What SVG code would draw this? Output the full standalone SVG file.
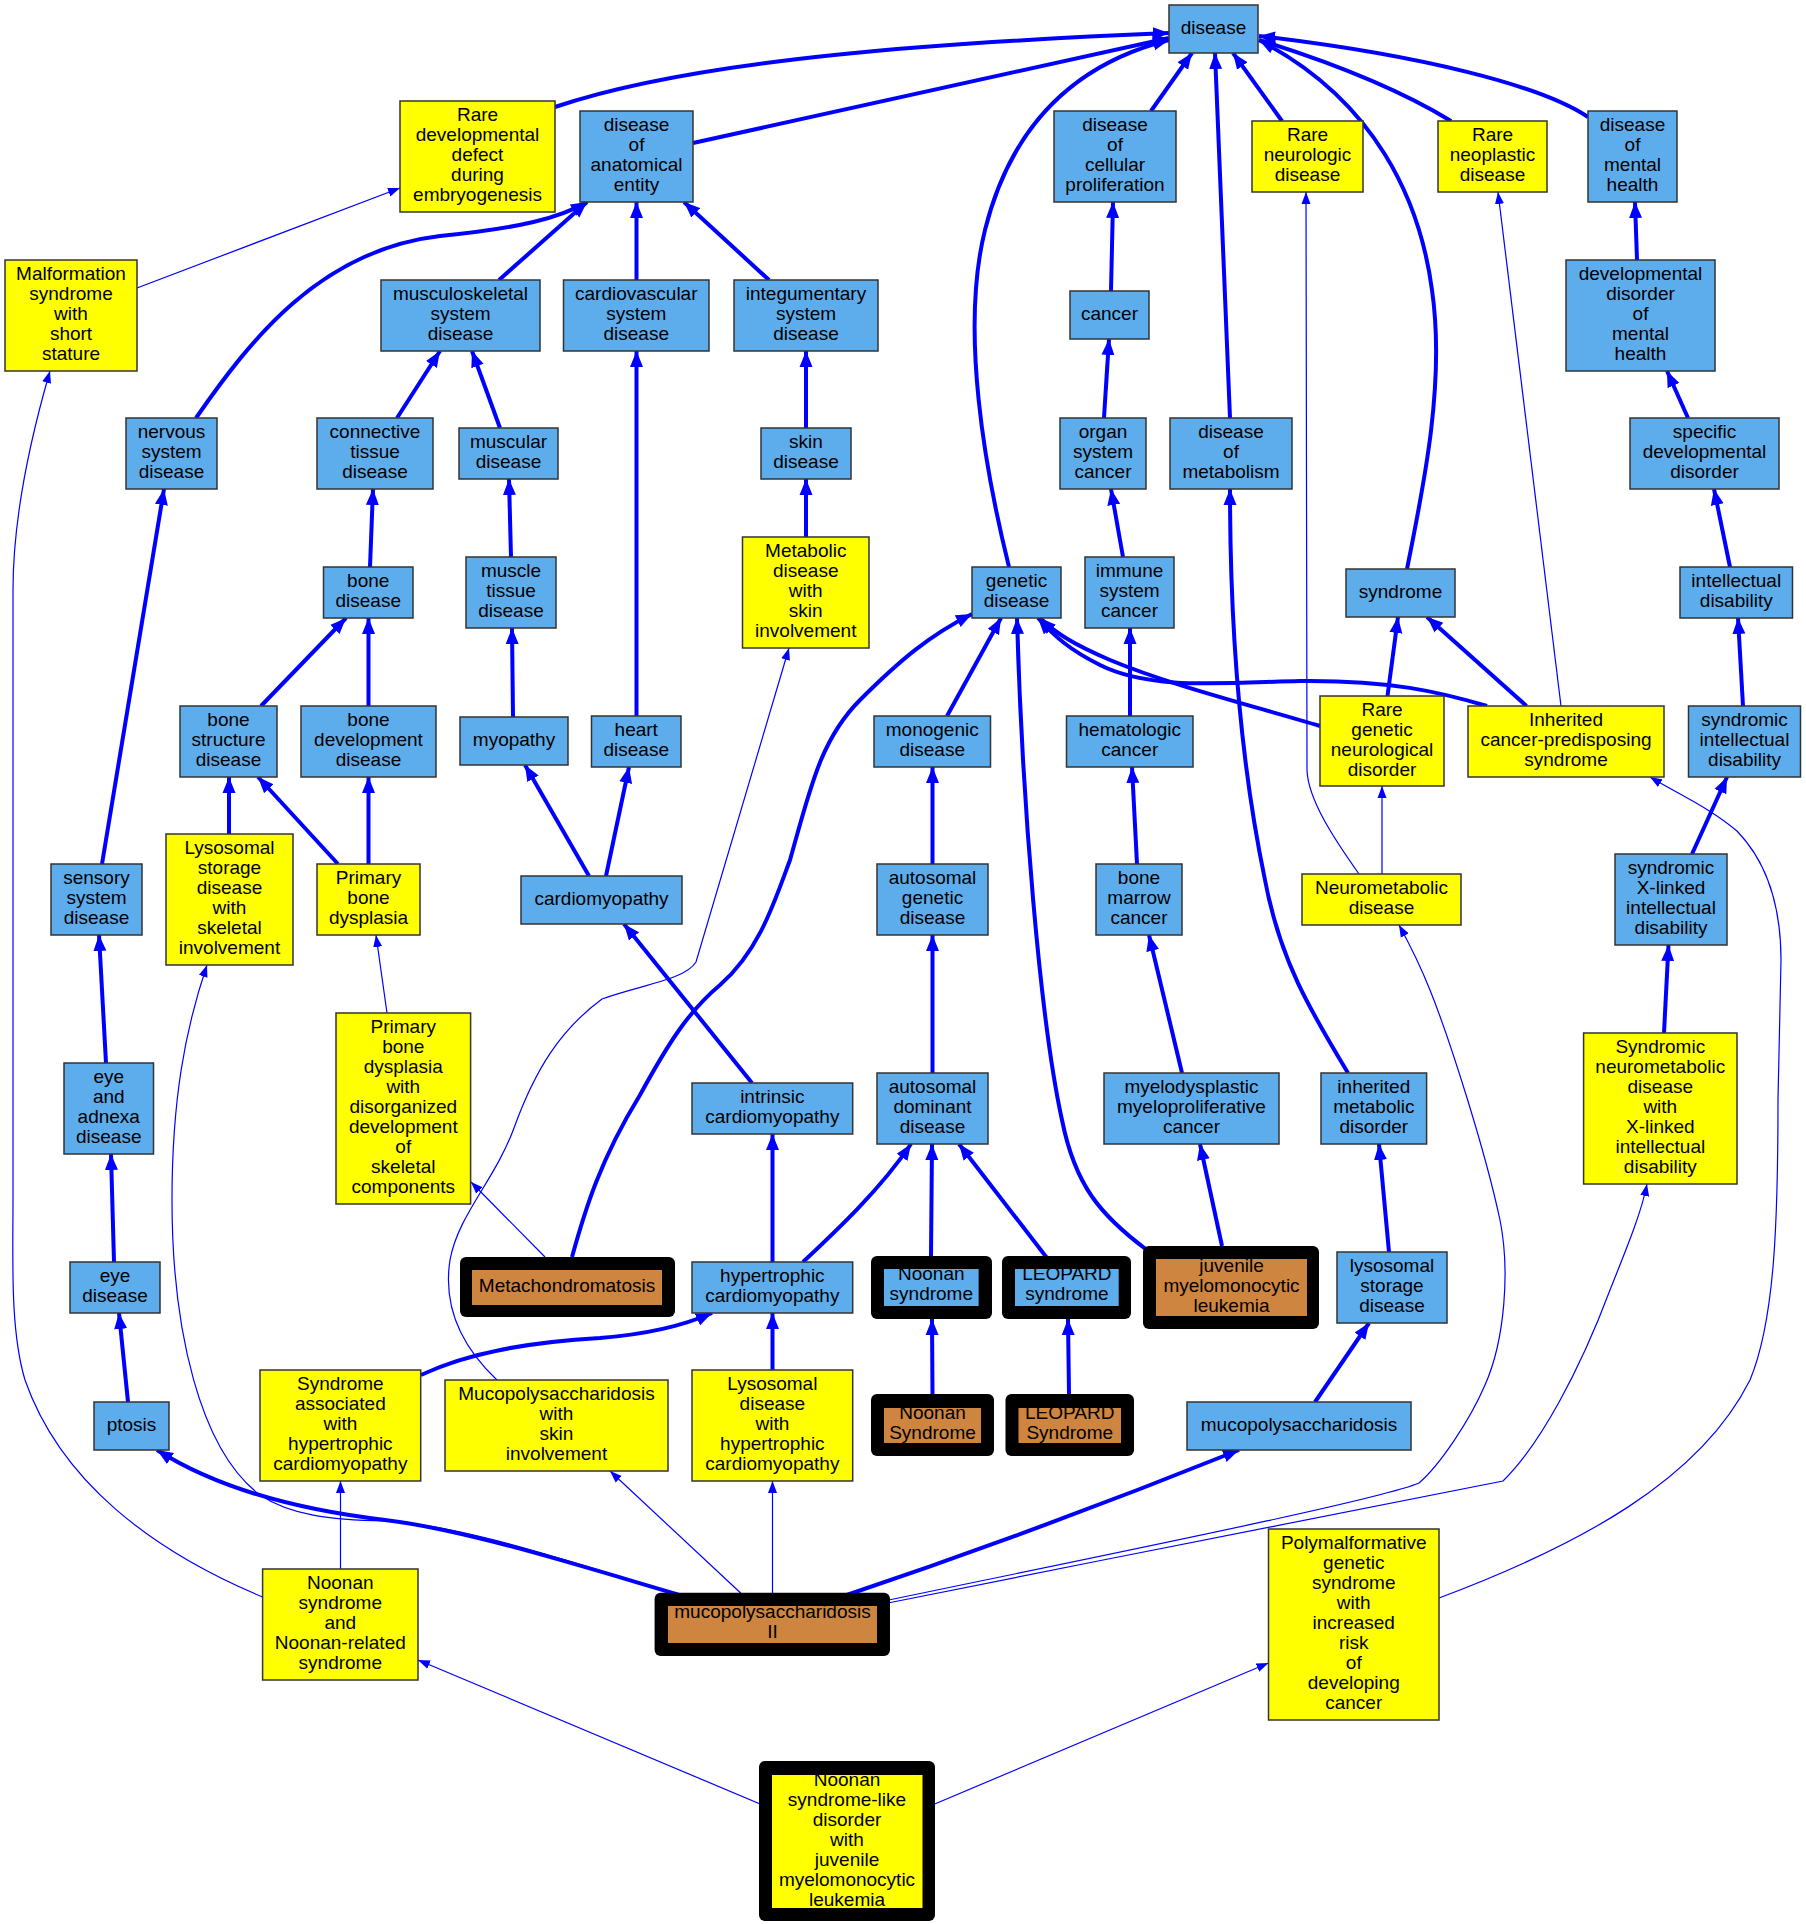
<svg xmlns="http://www.w3.org/2000/svg" width="1806" height="1924" viewBox="0 0 1806 1924">
<style>
.b{fill:#5DADEC;stroke:#333;stroke-width:1.5}
.y{fill:#FFFF00;stroke:#333;stroke-width:1.5}
.k{fill:#000}
.bi{fill:#5DADEC}
.pi{fill:#CD853F}
.yi{fill:#FFFF00}
text{font-family:"Liberation Sans",Arial,sans-serif;font-size:19px;text-anchor:middle;fill:#000;transform:translate(0px,-2.5px)}
.t{fill:none;stroke:#0000FF;stroke-width:4;marker-end:url(#at)}
.s{fill:none;stroke:#0000FF;stroke-width:1.2;marker-end:url(#as)}
</style>
<defs>
<marker id="at" markerUnits="userSpaceOnUse" markerWidth="17" markerHeight="14" refX="16" refY="7" orient="auto" viewBox="0 0 17 14"><path d="M0,0.5 L16,7 L0,13.5 z" fill="#0000FF"/></marker>
<marker id="as" markerUnits="userSpaceOnUse" markerWidth="13" markerHeight="10" refX="12" refY="5" orient="auto" viewBox="0 0 13 10"><path d="M0,0.5 L12,5 L0,9.5 z" fill="#0000FF"/></marker>
</defs>
<rect width="1806" height="1924" fill="#fff"/>
<g id="edges">
<path class="t" d="M555,107 C700,58 950,42 1169,33"/>
<path class="t" d="M693,143 L1169,38"/>
<path class="t" d="M1009,567 C985,470 960,330 985,230 C1010,130 1070,65 1169,40"/>
<path class="t" d="M1151,111 L1192,53"/>
<path class="t" d="M1230,418 L1215,53"/>
<path class="t" d="M1282,121 L1233,53"/>
<path class="t" d="M1407,569 C1425,480 1445,380 1432,290 C1420,200 1375,100 1259,40"/>
<path class="t" d="M1451,121 C1400,90 1330,62 1259,40"/>
<path class="t" d="M1588,117 C1540,85 1420,55 1259,36"/>
<path class="t" d="M499,280 L587,202"/>
<path class="t" d="M636.5,280 L636.5,202"/>
<path class="t" d="M769,280 L684,202"/>
<path class="t" d="M196,418 C250,340 320,250 440,236 C520,228 560,218 587,202"/>
<path class="t" d="M397,418 L440,351"/>
<path class="t" d="M500,428 L472,351"/>
<path class="t" d="M806,428 L806,351"/>
<path class="t" d="M806,537 L806,479"/>
<path class="t" d="M370,567 L373,489"/>
<path class="t" d="M511,557 L509,479"/>
<path class="t" d="M513,717 L512,628"/>
<path class="t" d="M636.5,716 L636.5,351"/>
<path class="t" d="M261,706 L346,618"/>
<path class="t" d="M368.5,706 L368.5,618"/>
<path class="t" d="M229,834 L229,777"/>
<path class="t" d="M338,864 L258,777"/>
<path class="t" d="M368.5,864 L368.5,777"/>
<path class="t" d="M589,876 L525,765"/>
<path class="t" d="M606,876 L629,767"/>
<path class="t" d="M102,864 L164,489"/>
<path class="t" d="M106,1063 L99,935"/>
<path class="t" d="M114,1262 L111,1154"/>
<path class="t" d="M128,1402 L119,1313"/>
<path class="t" d="M752,1083 L624,924"/>
<path class="t" d="M772.5,1262 L772.5,1134"/>
<path class="t" d="M803,1262 C835,1232 880,1190 911,1144"/>
<path class="t" d="M931,1256 L932,1144"/>
<path class="t" d="M1047,1258 L959,1144"/>
<path class="t" d="M932.5,1073 L932.5,935"/>
<path class="t" d="M932.5,864 L932.5,767"/>
<path class="t" d="M947,716 L1001,618"/>
<path class="t" d="M1147,1250 C1100,1215 1075,1185 1062,1120 C1040,1020 1022,800 1017,618"/>
<path class="t" d="M572,1257 C585,1210 600,1160 640,1095 C670,1040 690,1010 720,985 C760,950 775,900 790,860 C810,790 820,740 860,700 C900,660 930,635 972,614"/>
<path class="t" d="M1487,706 C1440,692 1390,680 1300,681 C1220,683 1150,690 1100,665 C1070,650 1055,637 1038,618"/>
<path class="t" d="M1320,726 C1250,705 1170,685 1110,660 C1075,645 1055,633 1040,618"/>
<path class="t" d="M1387.5,696 L1398,617"/>
<path class="t" d="M1526.5,706 L1427,617"/>
<path class="t" d="M1123,557 L1111,489"/>
<path class="t" d="M1104,418 L1109,339"/>
<path class="t" d="M1111,291 L1113,202"/>
<path class="t" d="M1130,716 L1130,628"/>
<path class="t" d="M1137,864 L1132,767"/>
<path class="t" d="M1182,1073 L1149,935"/>
<path class="t" d="M1222,1246 L1200,1144"/>
<path class="t" d="M1348,1073 C1310,1010 1280,960 1265,880 C1240,760 1230,620 1230,489"/>
<path class="t" d="M1389,1252 L1379,1144"/>
<path class="t" d="M1315,1402 L1369,1323"/>
<path class="t" d="M1637,260 L1635,202"/>
<path class="t" d="M1688,418 L1667,371"/>
<path class="t" d="M1730,567 L1714,489"/>
<path class="t" d="M1743,706 L1738,618"/>
<path class="t" d="M1692,854 L1727,777"/>
<path class="t" d="M1664,1033 L1668.5,945"/>
<path class="t" d="M421,1375 C470,1352 530,1342 600,1338 C650,1334 685,1325 712,1313"/>
<path class="t" d="M772.5,1370 L772.5,1313"/>
<path class="t" d="M690,1598 C600,1572 470,1530 385,1520 C300,1510 220,1490 157,1450"/>
<path class="t" d="M838,1598 Q1040,1530 1239,1450"/>
<path class="t" d="M932.5,1394 L932,1319"/>
<path class="t" d="M1069,1394 L1068,1319"/>
<path class="s" d="M137,288 L400,188"/>
<path class="s" d="M262.6,1597 C150,1550 60,1480 25,1380 C10,1330 13,1260 13,1200 L13,590 C13,520 30,440 50,371"/>
<path class="s" d="M1359,874 C1335,840 1308,800 1307,770 L1306,192"/>
<path class="s" d="M1382,874 L1382,786"/>
<path class="s" d="M1561,706 L1498,192"/>
<path class="s" d="M387,1013 L376,935"/>
<path class="s" d="M545,1257 L471,1182"/>
<path class="s" d="M497,1380 C460,1345 443,1305 450,1260 C458,1215 495,1180 514,1128 C535,1070 560,1030 602,999 C640,985 685,980 696,962 L789,648"/>
<path class="s" d="M340.5,1569 L340.5,1481"/>
<path class="s" d="M690,1598 C600,1572 470,1525 385,1521 C330,1520 290,1515 260,1495 C200,1450 172,1330 172,1200 C172,1100 185,1030 207,965"/>
<path class="s" d="M746,1598 L610,1471"/>
<path class="s" d="M772.5,1598 L772.5,1481"/>
<path class="s" d="M884,1601 C1100,1556 1380,1500 1419,1483 C1440,1465 1470,1420 1485,1385 C1505,1340 1510,1270 1500,1220 C1485,1150 1450,1040 1430,990 C1420,965 1410,945 1399,925"/>
<path class="s" d="M888,1603 C1100,1560 1400,1502 1503,1481 C1540,1445 1580,1370 1610,1290 C1630,1240 1642,1210 1647,1184"/>
<path class="s" d="M765,1806 L418,1660"/>
<path class="s" d="M930,1806 L1268.5,1663"/>
<path class="s" d="M1439,1598 C1580,1545 1700,1480 1750,1380 C1775,1320 1778,1220 1778,1100 L1781,960 C1781,900 1765,860 1737,831 C1710,808 1680,795 1650,777"/>
</g>
<g id="n1"><rect class="b" x="1169" y="5" width="89" height="48"/><text><tspan x="1213.5" y="36">disease</tspan></text></g>
<g id="n2"><rect class="y" x="400" y="101" width="155" height="111"/><text><tspan x="477.5" y="123.5">Rare</tspan><tspan x="477.5" y="143.5">developmental</tspan><tspan x="477.5" y="163.5">defect</tspan><tspan x="477.5" y="183.5">during</tspan><tspan x="477.5" y="203.5">embryogenesis</tspan></text></g>
<g id="n3"><rect class="b" x="580" y="111" width="113" height="91"/><text><tspan x="636.5" y="133.5">disease</tspan><tspan x="636.5" y="153.5">of</tspan><tspan x="636.5" y="173.5">anatomical</tspan><tspan x="636.5" y="193.5">entity</tspan></text></g>
<g id="n4"><rect class="b" x="1054" y="111" width="122" height="91"/><text><tspan x="1115" y="133.5">disease</tspan><tspan x="1115" y="153.5">of</tspan><tspan x="1115" y="173.5">cellular</tspan><tspan x="1115" y="193.5">proliferation</tspan></text></g>
<g id="n5"><rect class="y" x="1252" y="121" width="111" height="71"/><text><tspan x="1307.5" y="143.5">Rare</tspan><tspan x="1307.5" y="163.5">neurologic</tspan><tspan x="1307.5" y="183.5">disease</tspan></text></g>
<g id="n6"><rect class="y" x="1438" y="121" width="109" height="71"/><text><tspan x="1492.5" y="143.5">Rare</tspan><tspan x="1492.5" y="163.5">neoplastic</tspan><tspan x="1492.5" y="183.5">disease</tspan></text></g>
<g id="n7"><rect class="b" x="1588" y="111" width="89" height="91"/><text><tspan x="1632.5" y="133.5">disease</tspan><tspan x="1632.5" y="153.5">of</tspan><tspan x="1632.5" y="173.5">mental</tspan><tspan x="1632.5" y="193.5">health</tspan></text></g>
<g id="n8"><rect class="y" x="5" y="260" width="132" height="111"/><text><tspan x="71" y="282.5">Malformation</tspan><tspan x="71" y="302.5">syndrome</tspan><tspan x="71" y="322.5">with</tspan><tspan x="71" y="342.5">short</tspan><tspan x="71" y="362.5">stature</tspan></text></g>
<g id="n9"><rect class="b" x="381" y="280" width="159" height="71"/><text><tspan x="460.5" y="302.5">musculoskeletal</tspan><tspan x="460.5" y="322.5">system</tspan><tspan x="460.5" y="342.5">disease</tspan></text></g>
<g id="n10"><rect class="b" x="563.5" y="280" width="145.5" height="71"/><text><tspan x="636.25" y="302.5">cardiovascular</tspan><tspan x="636.25" y="322.5">system</tspan><tspan x="636.25" y="342.5">disease</tspan></text></g>
<g id="n11"><rect class="b" x="734" y="280" width="144" height="71"/><text><tspan x="806" y="302.5">integumentary</tspan><tspan x="806" y="322.5">system</tspan><tspan x="806" y="342.5">disease</tspan></text></g>
<g id="n12"><rect class="b" x="1070" y="291" width="79" height="48"/><text><tspan x="1109.5" y="322">cancer</tspan></text></g>
<g id="n13"><rect class="b" x="1566" y="260" width="149" height="111"/><text><tspan x="1640.5" y="282.5">developmental</tspan><tspan x="1640.5" y="302.5">disorder</tspan><tspan x="1640.5" y="322.5">of</tspan><tspan x="1640.5" y="342.5">mental</tspan><tspan x="1640.5" y="362.5">health</tspan></text></g>
<g id="n14"><rect class="b" x="126" y="418" width="91" height="71"/><text><tspan x="171.5" y="440.5">nervous</tspan><tspan x="171.5" y="460.5">system</tspan><tspan x="171.5" y="480.5">disease</tspan></text></g>
<g id="n15"><rect class="b" x="317" y="418" width="116" height="71"/><text><tspan x="375" y="440.5">connective</tspan><tspan x="375" y="460.5">tissue</tspan><tspan x="375" y="480.5">disease</tspan></text></g>
<g id="n16"><rect class="b" x="459" y="428" width="99" height="51"/><text><tspan x="508.5" y="450.5">muscular</tspan><tspan x="508.5" y="470.5">disease</tspan></text></g>
<g id="n17"><rect class="b" x="761" y="428" width="90" height="51"/><text><tspan x="806" y="450.5">skin</tspan><tspan x="806" y="470.5">disease</tspan></text></g>
<g id="n18"><rect class="b" x="1060" y="418" width="86" height="71"/><text><tspan x="1103" y="440.5">organ</tspan><tspan x="1103" y="460.5">system</tspan><tspan x="1103" y="480.5">cancer</tspan></text></g>
<g id="n19"><rect class="b" x="1170" y="418" width="122" height="71"/><text><tspan x="1231" y="440.5">disease</tspan><tspan x="1231" y="460.5">of</tspan><tspan x="1231" y="480.5">metabolism</tspan></text></g>
<g id="n20"><rect class="b" x="1630" y="418" width="149" height="71"/><text><tspan x="1704.5" y="440.5">specific</tspan><tspan x="1704.5" y="460.5">developmental</tspan><tspan x="1704.5" y="480.5">disorder</tspan></text></g>
<g id="n21"><rect class="b" x="323.5" y="567" width="89.5" height="51"/><text><tspan x="368.25" y="589.5">bone</tspan><tspan x="368.25" y="609.5">disease</tspan></text></g>
<g id="n22"><rect class="b" x="466" y="557" width="90" height="71"/><text><tspan x="511" y="579.5">muscle</tspan><tspan x="511" y="599.5">tissue</tspan><tspan x="511" y="619.5">disease</tspan></text></g>
<g id="n23"><rect class="y" x="742.5" y="537" width="126.5" height="111"/><text><tspan x="805.75" y="559.5">Metabolic</tspan><tspan x="805.75" y="579.5">disease</tspan><tspan x="805.75" y="599.5">with</tspan><tspan x="805.75" y="619.5">skin</tspan><tspan x="805.75" y="639.5">involvement</tspan></text></g>
<g id="n24"><rect class="b" x="972" y="567" width="89" height="51"/><text><tspan x="1016.5" y="589.5">genetic</tspan><tspan x="1016.5" y="609.5">disease</tspan></text></g>
<g id="n25"><rect class="b" x="1085" y="557" width="89" height="71"/><text><tspan x="1129.5" y="579.5">immune</tspan><tspan x="1129.5" y="599.5">system</tspan><tspan x="1129.5" y="619.5">cancer</tspan></text></g>
<g id="n26"><rect class="b" x="1346" y="569" width="109" height="48"/><text><tspan x="1400.5" y="600">syndrome</tspan></text></g>
<g id="n27"><rect class="b" x="1680" y="567" width="112.5" height="51"/><text><tspan x="1736.25" y="589.5">intellectual</tspan><tspan x="1736.25" y="609.5">disability</tspan></text></g>
<g id="n28"><rect class="b" x="180" y="706" width="97" height="71"/><text><tspan x="228.5" y="728.5">bone</tspan><tspan x="228.5" y="748.5">structure</tspan><tspan x="228.5" y="768.5">disease</tspan></text></g>
<g id="n29"><rect class="b" x="301" y="706" width="135" height="71"/><text><tspan x="368.5" y="728.5">bone</tspan><tspan x="368.5" y="748.5">development</tspan><tspan x="368.5" y="768.5">disease</tspan></text></g>
<g id="n30"><rect class="b" x="460" y="717" width="108" height="48"/><text><tspan x="514" y="748">myopathy</tspan></text></g>
<g id="n31"><rect class="b" x="591.5" y="716" width="89.5" height="51"/><text><tspan x="636.25" y="738.5">heart</tspan><tspan x="636.25" y="758.5">disease</tspan></text></g>
<g id="n32"><rect class="b" x="874" y="716" width="116.5" height="51"/><text><tspan x="932.25" y="738.5">monogenic</tspan><tspan x="932.25" y="758.5">disease</tspan></text></g>
<g id="n33"><rect class="b" x="1066.5" y="716" width="126.5" height="51"/><text><tspan x="1129.75" y="738.5">hematologic</tspan><tspan x="1129.75" y="758.5">cancer</tspan></text></g>
<g id="n34"><rect class="y" x="1320" y="696" width="124" height="90"/><text><tspan x="1382" y="718">Rare</tspan><tspan x="1382" y="738">genetic</tspan><tspan x="1382" y="758">neurological</tspan><tspan x="1382" y="778">disorder</tspan></text></g>
<g id="n35"><rect class="y" x="1468" y="706" width="196" height="71"/><text><tspan x="1566" y="728.5">Inherited</tspan><tspan x="1566" y="748.5">cancer-predisposing</tspan><tspan x="1566" y="768.5">syndrome</tspan></text></g>
<g id="n36"><rect class="b" x="1688.5" y="706" width="112" height="71"/><text><tspan x="1744.5" y="728.5">syndromic</tspan><tspan x="1744.5" y="748.5">intellectual</tspan><tspan x="1744.5" y="768.5">disability</tspan></text></g>
<g id="n37"><rect class="b" x="51" y="864" width="91" height="71"/><text><tspan x="96.5" y="886.5">sensory</tspan><tspan x="96.5" y="906.5">system</tspan><tspan x="96.5" y="926.5">disease</tspan></text></g>
<g id="n38"><rect class="y" x="166" y="834" width="127" height="131"/><text><tspan x="229.5" y="856.5">Lysosomal</tspan><tspan x="229.5" y="876.5">storage</tspan><tspan x="229.5" y="896.5">disease</tspan><tspan x="229.5" y="916.5">with</tspan><tspan x="229.5" y="936.5">skeletal</tspan><tspan x="229.5" y="956.5">involvement</tspan></text></g>
<g id="n39"><rect class="y" x="317" y="864" width="103" height="71"/><text><tspan x="368.5" y="886.5">Primary</tspan><tspan x="368.5" y="906.5">bone</tspan><tspan x="368.5" y="926.5">dysplasia</tspan></text></g>
<g id="n40"><rect class="b" x="521" y="876" width="161" height="48"/><text><tspan x="601.5" y="907">cardiomyopathy</tspan></text></g>
<g id="n41"><rect class="b" x="877" y="864" width="111" height="71"/><text><tspan x="932.5" y="886.5">autosomal</tspan><tspan x="932.5" y="906.5">genetic</tspan><tspan x="932.5" y="926.5">disease</tspan></text></g>
<g id="n42"><rect class="b" x="1096" y="864" width="86" height="71"/><text><tspan x="1139" y="886.5">bone</tspan><tspan x="1139" y="906.5">marrow</tspan><tspan x="1139" y="926.5">cancer</tspan></text></g>
<g id="n43"><rect class="y" x="1302" y="874" width="159" height="51"/><text><tspan x="1381.5" y="896.5">Neurometabolic</tspan><tspan x="1381.5" y="916.5">disease</tspan></text></g>
<g id="n44"><rect class="b" x="1615" y="854" width="112" height="91"/><text><tspan x="1671" y="876.5">syndromic</tspan><tspan x="1671" y="896.5">X-linked</tspan><tspan x="1671" y="916.5">intellectual</tspan><tspan x="1671" y="936.5">disability</tspan></text></g>
<g id="n45"><rect class="y" x="336" y="1013" width="134.6" height="191"/><text><tspan x="403.3" y="1035.5">Primary</tspan><tspan x="403.3" y="1055.5">bone</tspan><tspan x="403.3" y="1075.5">dysplasia</tspan><tspan x="403.3" y="1095.5">with</tspan><tspan x="403.3" y="1115.5">disorganized</tspan><tspan x="403.3" y="1135.5">development</tspan><tspan x="403.3" y="1155.5">of</tspan><tspan x="403.3" y="1175.5">skeletal</tspan><tspan x="403.3" y="1195.5">components</tspan></text></g>
<g id="n46"><rect class="b" x="64" y="1063" width="89.5" height="91"/><text><tspan x="108.75" y="1085.5">eye</tspan><tspan x="108.75" y="1105.5">and</tspan><tspan x="108.75" y="1125.5">adnexa</tspan><tspan x="108.75" y="1145.5">disease</tspan></text></g>
<g id="n47"><rect class="b" x="692" y="1083" width="160.7" height="51"/><text><tspan x="772.35" y="1105.5">intrinsic</tspan><tspan x="772.35" y="1125.5">cardiomyopathy</tspan></text></g>
<g id="n48"><rect class="b" x="877" y="1073" width="111" height="71"/><text><tspan x="932.5" y="1095.5">autosomal</tspan><tspan x="932.5" y="1115.5">dominant</tspan><tspan x="932.5" y="1135.5">disease</tspan></text></g>
<g id="n49"><rect class="b" x="1104" y="1073" width="175" height="71"/><text><tspan x="1191.5" y="1095.5">myelodysplastic</tspan><tspan x="1191.5" y="1115.5">myeloproliferative</tspan><tspan x="1191.5" y="1135.5">cancer</tspan></text></g>
<g id="n50"><rect class="b" x="1321" y="1073" width="105.6" height="71"/><text><tspan x="1373.8" y="1095.5">inherited</tspan><tspan x="1373.8" y="1115.5">metabolic</tspan><tspan x="1373.8" y="1135.5">disorder</tspan></text></g>
<g id="n51"><rect class="y" x="1583.6" y="1033" width="153.4" height="151"/><text><tspan x="1660.3" y="1055.5">Syndromic</tspan><tspan x="1660.3" y="1075.5">neurometabolic</tspan><tspan x="1660.3" y="1095.5">disease</tspan><tspan x="1660.3" y="1115.5">with</tspan><tspan x="1660.3" y="1135.5">X-linked</tspan><tspan x="1660.3" y="1155.5">intellectual</tspan><tspan x="1660.3" y="1175.5">disability</tspan></text></g>
<g id="n52"><rect class="b" x="70" y="1262" width="90" height="51"/><text><tspan x="115" y="1284.5">eye</tspan><tspan x="115" y="1304.5">disease</tspan></text></g>
<g id="n53"><rect class="k" x="460" y="1257" width="215" height="60" rx="6"/><rect class="pi" x="472" y="1270" width="190" height="35"/><text><tspan x="567" y="1294">Metachondromatosis</tspan></text></g>
<g id="n54"><rect class="b" x="692" y="1262" width="160.7" height="51"/><text><tspan x="772.35" y="1284.5">hypertrophic</tspan><tspan x="772.35" y="1304.5">cardiomyopathy</tspan></text></g>
<g id="n55"><rect class="k" x="871" y="1256" width="121" height="63" rx="6"/><rect class="bi" x="884" y="1269" width="94.6" height="37"/><text><tspan x="931.3" y="1282">Noonan</tspan><tspan x="931.3" y="1302">syndrome</tspan></text></g>
<g id="n56"><rect class="k" x="1002" y="1256" width="129" height="63" rx="6"/><rect class="bi" x="1015" y="1269" width="103.7" height="37"/><text><tspan x="1066.85" y="1282">LEOPARD</tspan><tspan x="1066.85" y="1302">syndrome</tspan></text></g>
<g id="n57"><rect class="k" x="1143" y="1246" width="176" height="83" rx="6"/><rect class="pi" x="1156" y="1259" width="151" height="57"/><text><tspan x="1231.5" y="1274.5">juvenile</tspan><tspan x="1231.5" y="1294.5">myelomonocytic</tspan><tspan x="1231.5" y="1314.5">leukemia</tspan></text></g>
<g id="n58"><rect class="b" x="1337" y="1252" width="110" height="71"/><text><tspan x="1392" y="1274.5">lysosomal</tspan><tspan x="1392" y="1294.5">storage</tspan><tspan x="1392" y="1314.5">disease</tspan></text></g>
<g id="n59"><rect class="y" x="260" y="1370" width="160.7" height="111"/><text><tspan x="340.35" y="1392.5">Syndrome</tspan><tspan x="340.35" y="1412.5">associated</tspan><tspan x="340.35" y="1432.5">with</tspan><tspan x="340.35" y="1452.5">hypertrophic</tspan><tspan x="340.35" y="1472.5">cardiomyopathy</tspan></text></g>
<g id="n60"><rect class="y" x="445" y="1380" width="223" height="91"/><text><tspan x="556.5" y="1402.5">Mucopolysaccharidosis</tspan><tspan x="556.5" y="1422.5">with</tspan><tspan x="556.5" y="1442.5">skin</tspan><tspan x="556.5" y="1462.5">involvement</tspan></text></g>
<g id="n61"><rect class="y" x="692" y="1370" width="160.7" height="111"/><text><tspan x="772.35" y="1392.5">Lysosomal</tspan><tspan x="772.35" y="1412.5">disease</tspan><tspan x="772.35" y="1432.5">with</tspan><tspan x="772.35" y="1452.5">hypertrophic</tspan><tspan x="772.35" y="1472.5">cardiomyopathy</tspan></text></g>
<g id="n62"><rect class="k" x="871" y="1394" width="123" height="62" rx="6"/><rect class="pi" x="884" y="1408" width="97" height="35"/><text><tspan x="932.5" y="1421">Noonan</tspan><tspan x="932.5" y="1441">Syndrome</tspan></text></g>
<g id="n63"><rect class="k" x="1005.5" y="1394" width="128.5" height="62" rx="6"/><rect class="pi" x="1018.5" y="1408" width="102.5" height="35"/><text><tspan x="1069.75" y="1421">LEOPARD</tspan><tspan x="1069.75" y="1441">Syndrome</tspan></text></g>
<g id="n64"><rect class="b" x="94" y="1402" width="75" height="48"/><text><tspan x="131.5" y="1433">ptosis</tspan></text></g>
<g id="n65"><rect class="b" x="1187" y="1402" width="224" height="48"/><text><tspan x="1299" y="1433">mucopolysaccharidosis</tspan></text></g>
<g id="n66"><rect class="y" x="262.6" y="1569" width="155.4" height="111"/><text><tspan x="340.3" y="1591.5">Noonan</tspan><tspan x="340.3" y="1611.5">syndrome</tspan><tspan x="340.3" y="1631.5">and</tspan><tspan x="340.3" y="1651.5">Noonan-related</tspan><tspan x="340.3" y="1671.5">syndrome</tspan></text></g>
<g id="n67"><rect class="k" x="654.6" y="1592.7" width="235.4" height="63.3" rx="6"/><rect class="pi" x="668" y="1606" width="209" height="37"/><text><tspan x="772.5" y="1620.5">mucopolysaccharidosis</tspan><tspan x="772.5" y="1640.5">II</tspan></text></g>
<g id="n68"><rect class="y" x="1268.5" y="1529" width="170.5" height="191"/><text><tspan x="1353.75" y="1551.5">Polymalformative</tspan><tspan x="1353.75" y="1571.5">genetic</tspan><tspan x="1353.75" y="1591.5">syndrome</tspan><tspan x="1353.75" y="1611.5">with</tspan><tspan x="1353.75" y="1631.5">increased</tspan><tspan x="1353.75" y="1651.5">risk</tspan><tspan x="1353.75" y="1671.5">of</tspan><tspan x="1353.75" y="1691.5">developing</tspan><tspan x="1353.75" y="1711.5">cancer</tspan></text></g>
<g id="n69"><rect class="k" x="759" y="1761" width="176" height="160" rx="6"/><rect class="yi" x="772" y="1775" width="150.5" height="133"/><text><tspan x="847" y="1788">Noonan</tspan><tspan x="847" y="1808">syndrome-like</tspan><tspan x="847" y="1828">disorder</tspan><tspan x="847" y="1848">with</tspan><tspan x="847" y="1868">juvenile</tspan><tspan x="847" y="1888">myelomonocytic</tspan><tspan x="847" y="1908">leukemia</tspan></text></g>
</svg>
